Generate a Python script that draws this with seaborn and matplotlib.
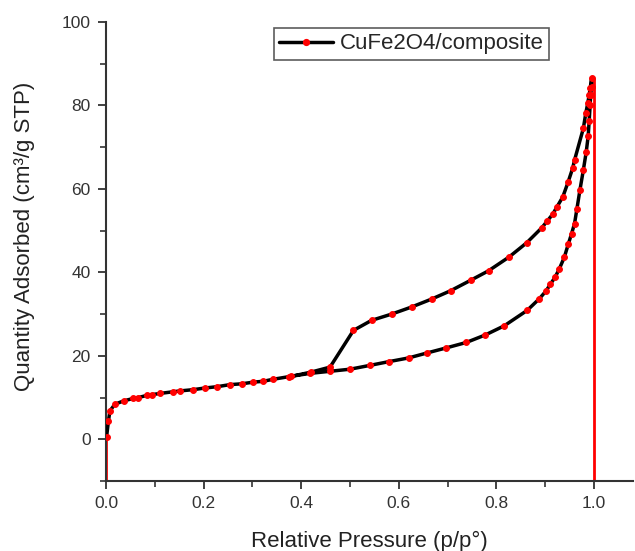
import matplotlib
matplotlib.use("Agg")
import matplotlib.pyplot as plt
import seaborn as sns
import pandas as pd
from matplotlib.ticker import MultipleLocator
from matplotlib.lines import Line2D

# Adsorption branch
x_ads = [0.001, 0.005, 0.008, 0.018, 0.036, 0.056, 0.066, 0.083, 0.094, 0.111, 0.138, 0.152,
         0.179, 0.203, 0.227, 0.254, 0.278, 0.302, 0.322, 0.343, 0.374, 0.418, 0.459, 0.500,
         0.540, 0.579, 0.620, 0.658, 0.697, 0.738, 0.777, 0.816, 0.863, 0.888, 0.902, 0.910,
         0.920, 0.929, 0.939, 0.947, 0.954, 0.960, 0.965, 0.971, 0.978, 0.984, 0.988, 0.990,
         0.992, 0.993, 0.995]
y_ads = [0.5, 4.5, 6.8, 8.4, 9.2, 9.8, 10.0, 10.5, 10.7, 11.0, 11.4, 11.6,
         11.9, 12.3, 12.6, 13.1, 13.3, 13.7, 13.9, 14.4, 15.0, 15.8, 16.3, 16.8,
         17.7, 18.6, 19.5, 20.7, 21.9, 23.2, 25.0, 27.2, 30.9, 33.7, 35.6, 37.1,
         38.8, 40.9, 43.6, 46.7, 49.3, 51.7, 55.3, 59.7, 64.5, 68.9, 72.7, 76.3,
         80.1, 82.5, 84.5]

# Desorption branch
x_des = [0.995, 0.992, 0.990, 0.987, 0.983, 0.978, 0.960, 0.956, 0.947, 0.936, 0.924, 0.915,
         0.904, 0.893, 0.862, 0.826, 0.784, 0.747, 0.706, 0.667, 0.626, 0.585, 0.544, 0.507,
         0.459, 0.420, 0.380]
y_des = [86.5, 84.1, 82.5, 80.5, 78.1, 74.5, 66.9, 64.9, 61.7, 58.1, 55.7, 53.9,
         52.3, 50.7, 47.1, 43.7, 40.4, 38.1, 35.6, 33.6, 31.7, 30.0, 28.5, 26.1,
         17.3, 16.1, 15.1]

# Red drop lines
drop_x = [0.0, 1.0]
drop_top = [0.0, 86.5]

series_label = "CuFe2O4/composite"

sns.set_theme(style="ticks")
plt.rcParams["font.family"] = ["Liberation Sans", "DejaVu Sans"]

fig = plt.figure(figsize=(6.35, 5.51), dpi=100)
ax = fig.add_axes([0.167, 0.127, 0.830, 0.833])

df = pd.DataFrame({"x": x_ads + x_des, "y": y_ads + y_des})
ax.vlines(drop_x, -10, drop_top, color="red", lw=2, zorder=1)
sns.lineplot(data=df, x="x", y="y", sort=False, estimator=None, ax=ax,
             color="black", lw=2.5, marker="o", markersize=4.2,
             markerfacecolor="red", markeredgecolor="red", zorder=3)

ax.set_xlim(0, 1.08)
ax.set_ylim(-10, 100)
ax.xaxis.set_major_locator(MultipleLocator(0.2))
ax.xaxis.set_minor_locator(MultipleLocator(0.1))
ax.yaxis.set_major_locator(MultipleLocator(20))
ax.yaxis.set_minor_locator(MultipleLocator(10))
ax.set_xticks([0.0, 0.2, 0.4, 0.6, 0.8, 1.0])
ax.set_xticklabels(["0.0", "0.2", "0.4", "0.6", "0.8", "1.0"])

for s in ["top", "right"]:
    ax.spines[s].set_visible(False)
for s in ["left", "bottom"]:
    ax.spines[s].set_color("#333333")
    ax.spines[s].set_linewidth(1.5)

ax.tick_params(which="major", direction="out", length=6, width=1.3, colors="#333333",
               labelsize=12.5, labelcolor="#333333", pad=5)
ax.tick_params(which="minor", direction="out", length=4, width=1.2, colors="#333333")

ax.set_xlabel("Relative Pressure (p/p°)", fontsize=16, color="#222222", labelpad=14)
ax.set_ylabel("Quantity Adsorbed (cm³/g STP)", fontsize=16, color="#222222")
ax.yaxis.set_label_coords(-0.134, 0.534)

leg = ax.legend([Line2D([0, 0.5, 1], [0, 0, 0], color="black", lw=2.5, marker="o",
                        markersize=4.2, markerfacecolor="red", markeredgecolor="red",
                        markevery=[1])],
                [series_label], loc="upper left", bbox_to_anchor=(0.31, 0.997),
                fontsize=16, frameon=True, fancybox=False, handlelength=2.4,
                borderpad=0.25, handletextpad=0.3, borderaxespad=0.2)
leg.get_frame().set_edgecolor("#333333")
leg.get_frame().set_linewidth(1.2)

fig.savefig("out.png", dpi=100)
